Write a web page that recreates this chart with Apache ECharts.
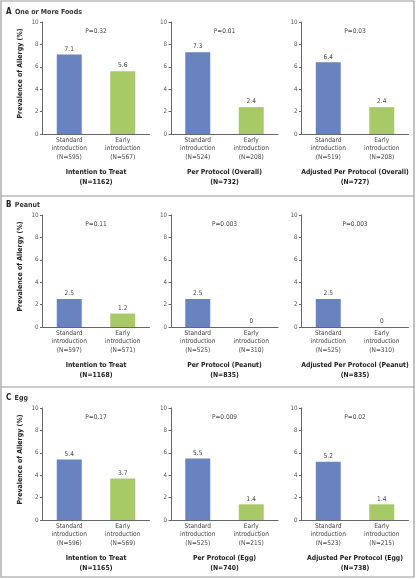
<!DOCTYPE html>
<html>
<head>
<meta charset="utf-8">
<script src="https://cdn.jsdelivr.net/npm/echarts@6/dist/echarts.min.js"></script>
<style>
  html, body { margin: 0; padding: 0; background: #fff; }
  #main { width: 418px; height: 579px; }
</style>
</head>
<body>
<div id="main"></div>
<script>
// rows: one or more foods, peanut, egg; 3 analyses per row
var panelLetters = ['A', 'B', 'C'];
var panelTitles = ['One or More Foods', 'Peanut', 'Egg'];
var analysisNames = [
  'Intention to Treat', 'Per Protocol (Overall)', 'Adjusted Per Protocol (Overall)',
  'Intention to Treat', 'Per Protocol (Peanut)', 'Adjusted Per Protocol (Peanut)',
  'Intention to Treat', 'Per Protocol (Egg)', 'Adjusted Per Protocol (Egg)'
];
var totalN = [1162, 732, 727, 1168, 835, 835, 1165, 740, 738];
var standardN = [595, 524, 519, 597, 525, 525, 596, 525, 523];
var earlyN = [567, 208, 208, 571, 310, 310, 569, 215, 215];
var standardValues = [7.1, 7.3, 6.4, 2.5, 2.5, 2.5, 5.4, 5.5, 5.2];
var earlyValues = [5.6, 2.4, 2.4, 1.2, 0, 0, 3.7, 1.4, 1.4];
var pValues = ['0.32', '0.01', '0.03', '0.11', '0.003', '0.003', '0.17', '0.009', '0.02'];
var yTicks = [0, 10, 2];

var BLUE = '#6983c0';
var GREEN = '#a7ca66';
var FONT = '"Liberation Sans Narrow", "DejaVu Sans Condensed", "Open Sans", sans-serif';

var colLeft = [42.5, 171, 301.5];
var colWidth = 107;
var rowTop = [22, 215, 408];
var rowHeight = 112;

var grids = [], xAxes = [], yAxes = [], series = [], titles = [];

for (var i = 0; i < 9; i++) {
  var r = Math.floor(i / 3), c = i % 3;
  grids.push({ left: colLeft[c], top: rowTop[r], width: colWidth, height: rowHeight });
  xAxes.push({
    type: 'category',
    gridIndex: i,
    data: ['Standard\nintroduction\n(N=' + standardN[i] + ')', 'Early\nintroduction\n(N=' + earlyN[i] + ')'],
    axisLine: { lineStyle: { color: '#666', width: 1 } },
    axisTick: { show: false },
    axisLabel: { color: '#444', fontSize: 6.5, lineHeight: 8.4, margin: 2, fontFamily: FONT, interval: 0 },
    name: analysisNames[i] + '\n(N=' + totalN[i] + ')',
    nameLocation: 'middle',
    nameGap: 33,
    nameTextStyle: { color: '#222', fontSize: 6.8, fontWeight: 'bold', lineHeight: 10, fontFamily: FONT }
  });
  yAxes.push({
    type: 'value',
    gridIndex: i,
    min: yTicks[0], max: yTicks[1], interval: yTicks[2],
    splitLine: { show: false },
    axisLine: { show: true, lineStyle: { color: '#666', width: 1 } },
    axisTick: { show: true, length: 2.5, lineStyle: { color: '#666' } },
    axisLabel: { color: '#555', fontSize: 6.2, margin: 4, fontFamily: FONT },
    name: c === 0 ? 'Prevalence of Allergy (%)' : '',
    nameLocation: 'middle',
    nameRotate: 90,
    nameGap: 19,
    nameTextStyle: { color: '#222', fontSize: 7, fontWeight: 'bold', fontFamily: FONT, padding: [0, 0, 0, 9] }
  });
  series.push({
    type: 'bar',
    xAxisIndex: i,
    yAxisIndex: i,
    barWidth: 25,
    animation: false,
    label: { show: true, position: 'top', distance: 2, color: '#444', fontSize: 6.5, fontFamily: FONT },
    data: [
      { value: standardValues[i], itemStyle: { color: BLUE } },
      { value: earlyValues[i], itemStyle: { color: GREEN } }
    ]
  });
  titles.push({
    text: 'P=' + pValues[i],
    left: colLeft[c] + colWidth / 2,
    top: rowTop[r] + 6,
    textAlign: 'center',
    padding: 0,
    textStyle: { color: '#444', fontSize: 6.5, fontWeight: 'normal', fontFamily: FONT }
  });
}

var graphics = [
  { type: 'rect', shape: { x: 1, y: 1, width: 413, height: 576 }, style: { fill: 'none', stroke: '#9a9a9a', lineWidth: 1.2 }, silent: true },
  { type: 'line', shape: { x1: 1, y1: 196, x2: 414, y2: 196 }, style: { stroke: '#9a9a9a', lineWidth: 1.2 }, silent: true },
  { type: 'line', shape: { x1: 1, y1: 387, x2: 414, y2: 387 }, style: { stroke: '#9a9a9a', lineWidth: 1.2 }, silent: true }
];
var headerY = [10, 203, 396];
for (var k = 0; k < 3; k++) {
  graphics.push({
    type: 'text',
    left: 6,
    top: headerY[k] - 4,
    style: {
      text: '{l|' + panelLetters[k] + '} {t|' + panelTitles[k] + '}',
      rich: {
        l: { fontSize: 8, fontWeight: 'bold', fill: '#222', fontFamily: FONT },
        t: { fontSize: 7, fontWeight: 'bold', fill: '#333', fontFamily: FONT }
      }
    },
    silent: true
  });
}

var myChart = echarts.init(document.getElementById('main'));
var option = {
  backgroundColor: '#fff',
  animation: false,
  title: titles,
  grid: grids,
  xAxis: xAxes,
  yAxis: yAxes,
  series: series,
  graphic: graphics
};
myChart.setOption(option);
</script>
</body>
</html>
